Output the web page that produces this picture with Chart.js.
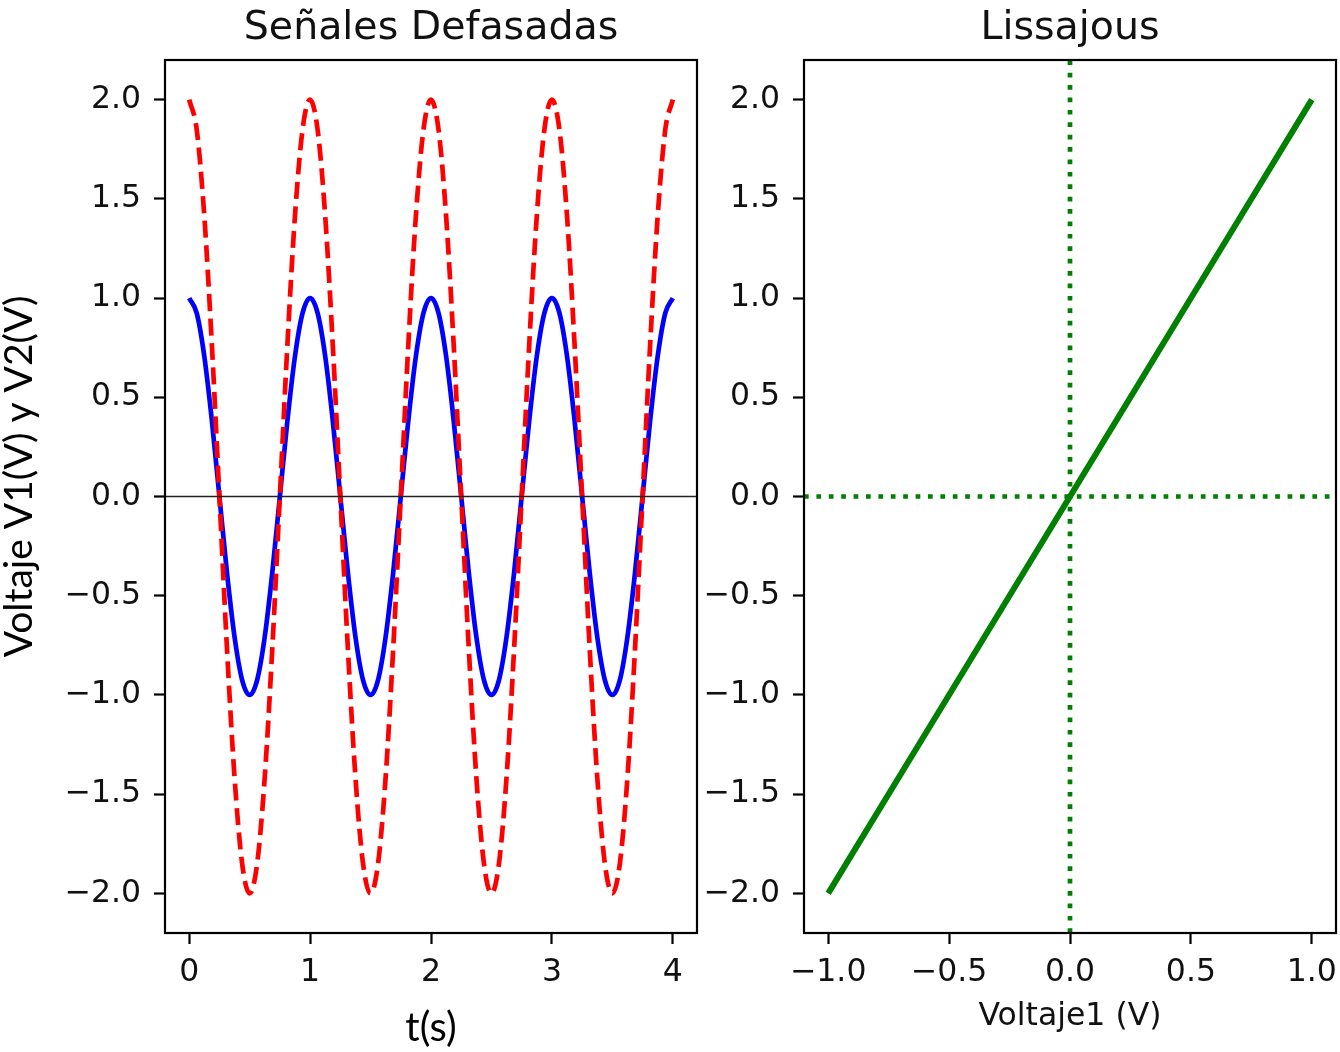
<!DOCTYPE html>
<html>
<head>
<meta charset="utf-8">
<title>Señales Defasadas / Lissajous</title>
<script src="https://cdn.jsdelivr.net/npm/chart.js@4/dist/chart.umd.min.js"></script>
<style>
    html, body { margin: 0; padding: 0; background: #fff; overflow: hidden; }
    #stage { position: relative; width: 1340px; height: 1052px; overflow: hidden; }
    #stage canvas { position: absolute; top: 0; }
</style>
</head>
<body>
<div id="stage">
    <canvas id="chartSenales" width="740" height="1052" style="left:0"></canvas>
    <canvas id="chartLissajous" width="680" height="1052" style="left:700px"></canvas>
</div>
<script>
// tiempo (s), muestreado cada 1/16 s
const tiempo = [
    0, 0.0625, 0.125, 0.1875, 0.25, 0.3125, 0.375, 0.4375, 0.5, 0.5625, 0.625, 0.6875, 0.75, 0.8125, 0.875, 0.9375,
    1, 1.0625, 1.125, 1.1875, 1.25, 1.3125, 1.375, 1.4375, 1.5, 1.5625, 1.625, 1.6875, 1.75, 1.8125, 1.875, 1.9375,
    2, 2.0625, 2.125, 2.1875, 2.25, 2.3125, 2.375, 2.4375, 2.5, 2.5625, 2.625, 2.6875, 2.75, 2.8125, 2.875, 2.9375,
    3, 3.0625, 3.125, 3.1875, 3.25, 3.3125, 3.375, 3.4375, 3.5, 3.5625, 3.625, 3.6875, 3.75, 3.8125, 3.875, 3.9375,
    4
];
// Voltaje 1 (azul)
const voltaje1 = [
    1, 0.924, 0.707, 0.383, 0, -0.383, -0.707, -0.924, -1, -0.924, -0.707, -0.383, 0, 0.383, 0.707, 0.924,
    1, 0.924, 0.707, 0.383, 0, -0.383, -0.707, -0.924, -1, -0.924, -0.707, -0.383, 0, 0.383, 0.707, 0.924,
    1, 0.924, 0.707, 0.383, 0, -0.383, -0.707, -0.924, -1, -0.924, -0.707, -0.383, 0, 0.383, 0.707, 0.924,
    1, 0.924, 0.707, 0.383, 0, -0.383, -0.707, -0.924, -1, -0.924, -0.707, -0.383, 0, 0.383, 0.707, 0.924,
    1
];
// Voltaje 2 (rojo, discontinua)
const voltaje2 = [
    2, 1.848, 1.414, 0.766, 0, -0.766, -1.414, -1.848, -2, -1.848, -1.414, -0.766, 0, 0.766, 1.414, 1.848,
    2, 1.848, 1.414, 0.766, 0, -0.766, -1.414, -1.848, -2, -1.848, -1.414, -0.766, 0, 0.766, 1.414, 1.848,
    2, 1.848, 1.414, 0.766, 0, -0.766, -1.414, -1.848, -2, -1.848, -1.414, -0.766, 0, 0.766, 1.414, 1.848,
    2, 1.848, 1.414, 0.766, 0, -0.766, -1.414, -1.848, -2, -1.848, -1.414, -0.766, 0, 0.766, 1.414, 1.848,
    2
];

const limTiempo = [-0.2, 4.2];
const limVoltaje = [-2.2, 2.2];
const limVoltaje1 = [-1.1, 1.1];
const ticksTiempo = [0, 1, 2, 3, 4];
const ticksVoltaje = [-2, -1.5, -1, -0.5, 0, 0.5, 1, 1.5, 2];
const ticksVoltaje1 = [-1, -0.5, 0, 0.5, 1];
const nivelCero = 0;

const TXT = "#111";
const FONT = "DejaVu Sans";

const fmt1 = v => v.toFixed(1).replace("-", "\u2212");

// marco completo de los ejes (estilo matplotlib)
const marco = {
    id: "marco",
    afterDatasetsDraw(chart) {
        const { ctx, chartArea: a } = chart;
        ctx.save();
        ctx.strokeStyle = "#000";
        ctx.lineWidth = 2.2;
        ctx.strokeRect(a.left, a.top, a.right - a.left, a.bottom - a.top);
        ctx.restore();
    }
};

// etiqueta vertical del eje y
const etiquetaY = {
    id: "etiquetaY",
    afterDraw(chart) {
        const { ctx, chartArea: a } = chart;
        ctx.save();
        ctx.translate(19.5, (a.top + a.bottom) / 2 - 20);
        ctx.rotate(-Math.PI / 2);
        ctx.font = "39px Lato";
        ctx.fillStyle = "#000";
        ctx.textAlign = "center";
        ctx.textBaseline = "middle";
        ctx.fillText("Voltaje V1(V) y V2(V)", 0, 0);
        ctx.restore();
    }
};

function ejeX(lim, ticks, fmt, title) {
    return {
        type: "linear",
        min: lim[0],
        max: lim[1],
        afterBuildTicks: s => { s.ticks = ticks.map(v => ({ value: v })); },
        afterFit: s => { s.height = 119; },
        border: { display: false },
        grid: { display: true, drawOnChartArea: false, drawTicks: true, tickLength: 11, tickWidth: 2.2, tickColor: "#000" },
        ticks: { autoSkip: false, maxRotation: 0, padding: 10, color: TXT, font: { family: FONT, size: 31.5 }, callback: v => fmt(v) },
        title: title
    };
}

function ejeY(width) {
    return {
        type: "linear",
        min: limVoltaje[0],
        max: limVoltaje[1],
        afterBuildTicks: s => { s.ticks = ticksVoltaje.map(v => ({ value: v })); },
        afterFit: s => { s.width = width; },
        border: { display: false },
        grid: { display: true, drawOnChartArea: false, drawTicks: true, tickLength: 11, tickWidth: 2.2, tickColor: "#000" },
        ticks: { autoSkip: false, padding: 13, color: TXT, font: { family: FONT, size: 31.5 }, callback: v => fmt1(v) }
    };
}

function titulo(text) {
    return {
        display: true,
        text: text,
        fullSize: false,
        color: TXT,
        font: { family: FONT, size: 39.5, weight: "normal" },
        padding: { top: 4.7, bottom: 7.9 }
    };
}

const puntos = (xs, ys) => xs.map((x, i) => ({ x: x, y: ys[i] }));

new Chart(document.getElementById("chartSenales"), {
    type: "line",
    data: {
        datasets: [
            {
                data: [{ x: limTiempo[0], y: nivelCero }, { x: limTiempo[1], y: nivelCero }],
                borderColor: "#222",
                borderWidth: 1.6,
                pointRadius: 0,
                tension: 0,
                order: 0
            },
            {
                data: puntos(tiempo, voltaje2),
                borderColor: "#ff0000",
                borderWidth: 4.7,
                borderDash: [17, 7.5],
                pointRadius: 0,
                cubicInterpolationMode: "monotone",
                order: 1
            },
            {
                data: puntos(tiempo, voltaje1),
                borderColor: "#0000ff",
                borderWidth: 4.7,
                pointRadius: 0,
                cubicInterpolationMode: "monotone",
                order: 2
            }
        ]
    },
    options: {
        responsive: false,
        animation: false,
        devicePixelRatio: 1,
        layout: { padding: { left: 0, right: 43, top: 0, bottom: 0 } },
        plugins: { legend: { display: false }, tooltip: { enabled: false }, title: titulo("Señales Defasadas") },
        scales: {
            x: ejeX(limTiempo, ticksTiempo, v => String(v), {
                display: true, text: "t(s)", color: "#000",
                font: { family: "Lato", size: 40, lineHeight: 1.2 },
                padding: { top: 0, bottom: 0 }
            }),
            y: ejeY(165)
        }
    },
    plugins: [marco, etiquetaY]
});

new Chart(document.getElementById("chartLissajous"), {
    type: "line",
    data: {
        datasets: [
            {
                data: puntos(voltaje1, voltaje2),
                borderColor: "#008000",
                borderWidth: 6,
                pointRadius: 0,
                tension: 0,
                order: 0
            },
            {
                data: [{ x: limVoltaje1[0], y: nivelCero }, { x: limVoltaje1[1], y: nivelCero }],
                borderColor: "#008000",
                borderWidth: 4.7,
                borderDash: [4.7, 7.7],
                pointRadius: 0,
                tension: 0,
                order: 1
            },
            {
                data: [{ x: nivelCero, y: limVoltaje[0] }, { x: nivelCero, y: limVoltaje[1] }],
                borderColor: "#008000",
                borderWidth: 4.7,
                borderDash: [4.7, 7.7],
                pointRadius: 0,
                tension: 0,
                order: 2
            }
        ]
    },
    options: {
        responsive: false,
        animation: false,
        devicePixelRatio: 1,
        layout: { padding: { left: 0, right: 44, top: 0, bottom: 0 } },
        plugins: { legend: { display: false }, tooltip: { enabled: false }, title: titulo("Lissajous") },
        scales: {
            x: ejeX(limVoltaje1, ticksVoltaje1, fmt1, {
                display: true, text: "Voltaje1 (V)", color: TXT,
                font: { family: FONT, size: 31.5, lineHeight: 1.2 },
                padding: { top: 0, bottom: 16.5 }
            }),
            y: ejeY(104)
        }
    },
    plugins: [marco]
});
</script>
</body>
</html>
